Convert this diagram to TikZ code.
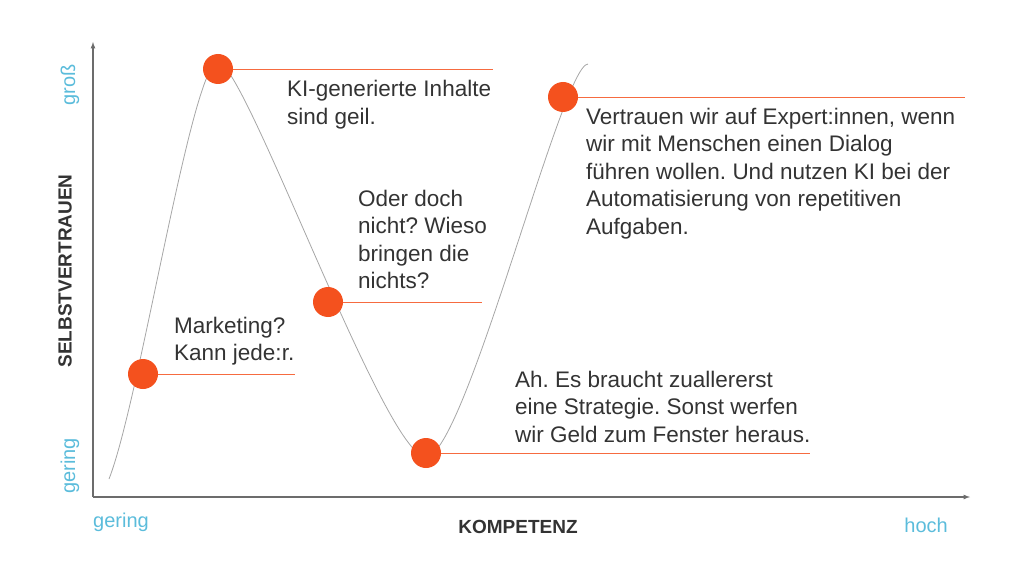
\documentclass[tikz,border=0pt]{standalone}
\usepackage{fontspec}
\setmainfont{Liberation Sans}
\usetikzlibrary{arrows}
\definecolor{punkt}{HTML}{F4511E}
\definecolor{textgrau}{HTML}{333333}
\definecolor{skala}{HTML}{5BBCDB}
\frenchspacing
\begin{document}
\begin{tikzpicture}[>=latex, x=1pt, y=-1pt,
    punktstil/.style={circle, fill=punkt, inner sep=0pt, minimum size=30pt},
    linie/.style={punkt!85, line width=0.9pt},
    kommentar/.style={anchor=base west, align=left, inner sep=0pt, text=textgrau,
      font=\fontsize{22.5}{27.5}\selectfont},
    achsentext/.style={text=textgrau, inner sep=0pt, font=\bfseries\fontsize{19}{22}\selectfont},
    skalatext/.style={text=skala, inner sep=0pt, font=\fontsize{20}{24}\selectfont}]
\useasboundingbox (0,0) rectangle (1024,572);
% Achsen
\coordinate (ursprung) at (93,497);
\coordinate (yende) at (93,42);
\coordinate (xende) at (970,497);
\draw[->, gray!85!black, line width=1.2pt] (ursprung) -- (yende);
\draw[->, gray!85!black, line width=1.2pt] (ursprung) -- (xende);
% Kurve
\coordinate (k0) at (109,479);
\coordinate (k1) at (218,62);
\coordinate (k2) at (426,457);
\coordinate (k3) at (588,64);
\draw[gray!70, line width=0.8pt] (k0) .. controls (140,400) and (192,62) .. (k1)
  .. controls (245,62) and (385,457) .. (k2)
  .. controls (465,457) and (562,64) .. (k3);
% Punkte mit Linien
\node[punktstil] (p1) at (143,374) {};
\coordinate (l1) at (295,374);
\draw[linie] (p1.east) -- (l1);
\node[punktstil] (p2) at (218,69) {};
\coordinate (l2) at (493,69);
\draw[linie] (p2.east) -- (l2);
\node[punktstil] (p3) at (328,302) {};
\coordinate (l3) at (482,302);
\draw[linie] (p3.east) -- (l3);
\node[punktstil] (p4) at (426,453) {};
\coordinate (l4) at (810,453);
\draw[linie] (p4.east) -- (l4);
\node[punktstil] (p5) at (563,97) {};
\coordinate (l5) at (965,97);
\draw[linie] (p5.east) -- (l5);
% Texte (Grundlinie der letzten Zeile)
\node[kommentar] (t1) at (174,360.5) {Marketing?\\Kann jede:r.};
\node[kommentar] (t2) at (287,124.5) {KI-generierte Inhalte\\sind geil.};
\node[kommentar] (t3) at (358,288.5) {Oder doch\\nicht? Wieso\\bringen die\\nichts?};
\node[kommentar] (t4) at (515,442) {Ah. Es braucht zuallererst\\eine Strategie. Sonst werfen\\wir Geld zum Fenster heraus.};
\node[kommentar] (t5) at (586,234) {Vertrauen wir auf Expert:innen, wenn\\wir mit Menschen einen Dialog\\führen wollen. Und nutzen KI bei der\\Automatisierung von repetitiven\\Aufgaben.};
% Achsenbeschriftung
\node[achsentext, rotate=90] (ylabel) at (65,271) {SELBSTVERTRAUEN};
\node[skalatext, rotate=90] (ygross) at (70,85) {groß};
\node[skalatext, rotate=90] (ygering) at (70,466) {gering};
\node[achsentext, anchor=base] (xlabel) at (518,533) {KOMPETENZ};
\node[skalatext, anchor=base west] (xgering) at (93,527) {gering};
\node[skalatext, anchor=base east] (xhoch) at (948,532) {hoch};
\end{tikzpicture}
\end{document}
